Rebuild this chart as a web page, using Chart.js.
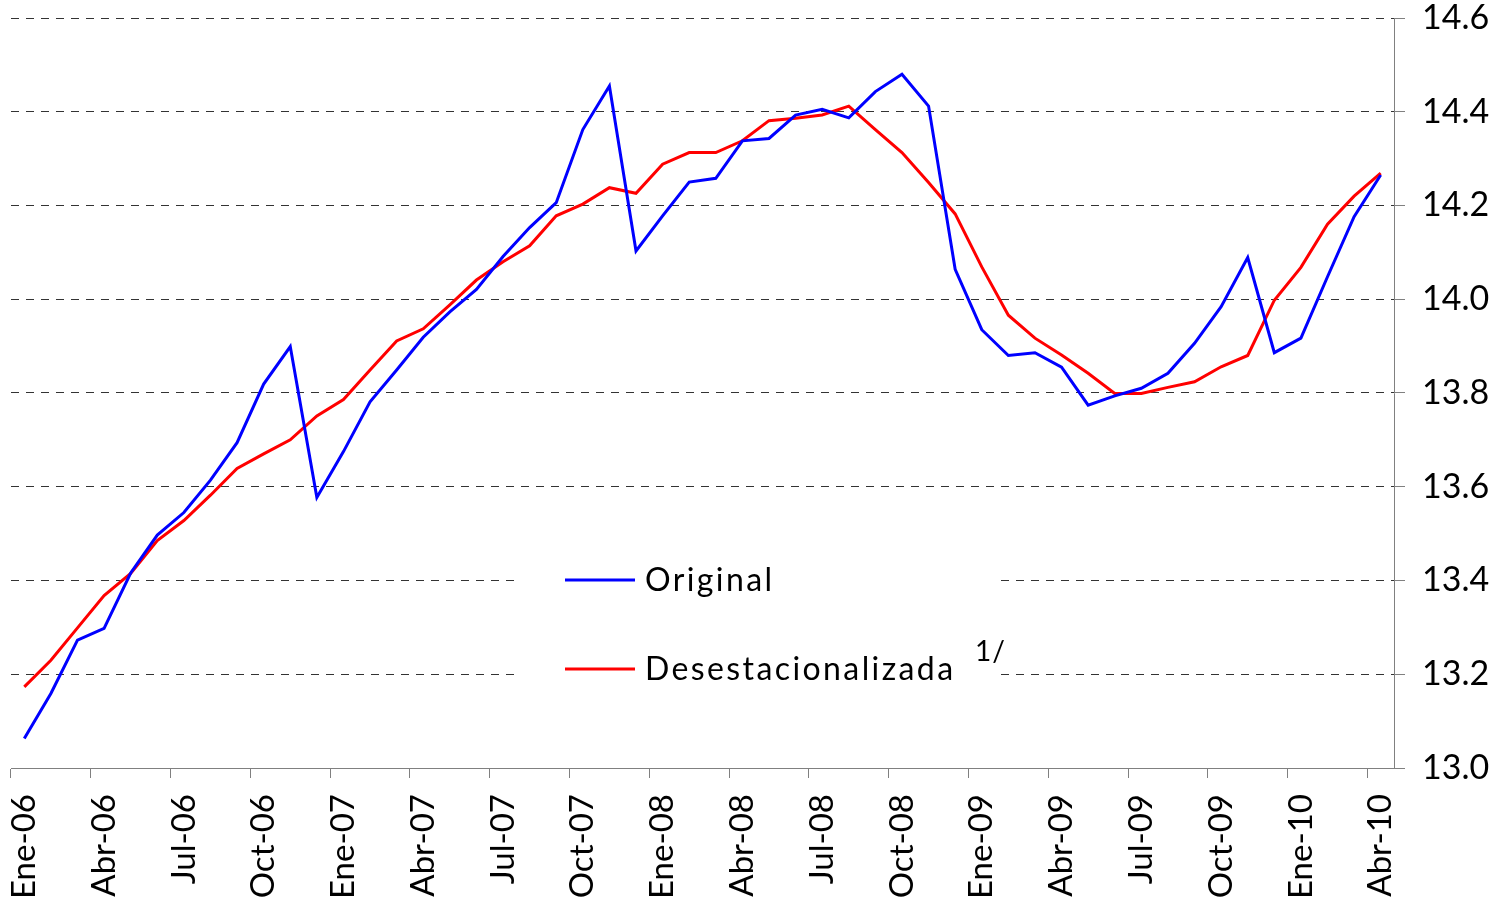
<!DOCTYPE html>
<html>
<head>
<meta charset="utf-8">
<script src="https://cdn.jsdelivr.net/npm/chart.js@4.4.1/dist/chart.umd.min.js"></script>
<style>
  html, body { margin: 0; padding: 0; background: #ffffff; }
  #wrap { width: 1501px; height: 905px; position: relative; }
</style>
</head>
<body>
<div id="wrap"><canvas id="c" width="1501" height="905"></canvas></div>
<script>
const categories = [
  'Ene-06','Feb-06','Mar-06','Abr-06','May-06','Jun-06','Jul-06','Ago-06','Sep-06','Oct-06','Nov-06','Dic-06',
  'Ene-07','Feb-07','Mar-07','Abr-07','May-07','Jun-07','Jul-07','Ago-07','Sep-07','Oct-07','Nov-07','Dic-07',
  'Ene-08','Feb-08','Mar-08','Abr-08','May-08','Jun-08','Jul-08','Ago-08','Sep-08','Oct-08','Nov-08','Dic-08',
  'Ene-09','Feb-09','Mar-09','Abr-09','May-09','Jun-09','Jul-09','Ago-09','Sep-09','Oct-09','Nov-09','Dic-09',
  'Ene-10','Feb-10','Mar-10','Abr-10'
];
const original = [
  13.063, 13.159, 13.273, 13.298, 13.416, 13.497, 13.545, 13.614, 13.694, 13.819, 13.899, 13.577,
  13.675, 13.781, 13.849, 13.919, 13.973, 14.021, 14.091, 14.153, 14.206, 14.362, 14.455, 14.103,
  14.178, 14.250, 14.258, 14.338, 14.343, 14.393, 14.405, 14.387, 14.443, 14.480, 14.412, 14.064,
  13.935, 13.880, 13.886, 13.855, 13.774, 13.794, 13.810, 13.842, 13.906, 13.984, 14.089, 13.886,
  13.917, 14.048, 14.176, 14.265
];
const desestacionalizada = [
  13.173, 13.230, 13.299, 13.368, 13.415, 13.485, 13.528, 13.582, 13.639, 13.670, 13.700, 13.751,
  13.786, 13.849, 13.911, 13.937, 13.988, 14.041, 14.080, 14.114, 14.178, 14.203, 14.238, 14.226,
  14.288, 14.313, 14.313, 14.338, 14.381, 14.386, 14.393, 14.412, 14.362, 14.313, 14.249, 14.182,
  14.069, 13.966, 13.917, 13.881, 13.842, 13.799, 13.799, 13.812, 13.824, 13.856, 13.880, 13.998,
  14.068, 14.160, 14.220, 14.269
];
const yTicks = ['13.0','13.2','13.4','13.6','13.8','14.0','14.2','14.4','14.6'];
const seriesNames = ['Original', 'Desestacionalizada'];
const seriesColors = ['#0000ff', '#ff0000'];
const noteText = '1/';
const labelEvery = 3;

const legendPlugin = {
  id: 'boxLegend',
  beforeDatasetsDraw(chart) {
    const ctx = chart.ctx;
    ctx.save();
    ctx.fillStyle = '#ffffff';
    ctx.fillRect(515, 545, 485, 150);
    const rows = [580, 669];
    rows.forEach((y, i) => {
      ctx.strokeStyle = seriesColors[i];
      ctx.lineWidth = 3;
      ctx.beginPath();
      ctx.moveTo(565, y);
      ctx.lineTo(635, y);
      ctx.stroke();
      ctx.fillStyle = '#000000';
      ctx.font = '32px Lato';
      ctx.letterSpacing = '2.4px';
      ctx.textBaseline = 'middle';
      ctx.textAlign = 'left';
      ctx.fillText(seriesNames[i], 645, y + 1);
    });
    ctx.letterSpacing = '1px';
    ctx.font = '28px Lato';
    ctx.fillText(noteText, 975, 652);
    ctx.restore();
  }
};

new Chart(document.getElementById('c'), {
  type: 'line',
  data: {
    labels: categories,
    datasets: [
      { label: seriesNames[0], data: original, borderColor: seriesColors[0], borderWidth: 3, pointRadius: 0, tension: 0, fill: false },
      { label: seriesNames[1], data: desestacionalizada, borderColor: seriesColors[1], borderWidth: 3, pointRadius: 0, tension: 0, fill: false }
    ]
  },
  options: {
    responsive: false,
    animation: false,
    devicePixelRatio: 1,
    layout: { padding: { left: 11, top: 18, right: 0, bottom: 0 } },
    plugins: { legend: { display: false }, tooltip: { enabled: false } },
    scales: {
      x: {
        type: 'category',
        offset: true,
        grid: {
          offset: true,
          drawOnChartArea: false,
          drawTicks: true,
          tickLength: 10,
          color: (c) => (c.index % labelEvery === 0 ? '#808080' : 'rgba(0,0,0,0)'),
          tickColor: (c) => (c.index % labelEvery === 0 ? '#808080' : 'rgba(0,0,0,0)')
        },
        border: { display: true, color: '#808080', width: 1 },
        ticks: {
          autoSkip: false,
          minRotation: 90,
          maxRotation: 90,
          padding: 16,
          color: '#000000',
          font: { family: 'Lato', size: 33, lineHeight: 1 },
          callback: (v, i) => (i % labelEvery === 0 ? categories[i] : '')
        },
        afterFit(scale) { scale.height = 137; scale.paddingLeft = 0; scale.paddingRight = 0; }
      },
      y: {
        position: 'right',
        min: 13.0,
        max: 14.6,
        grid: {
          color: '#333333',
          lineWidth: 1,
          drawTicks: true,
          tickLength: 11,
          tickColor: '#808080'
        },
        border: { display: true, color: '#808080', width: 1, dash: [8, 7] },
        ticks: {
          stepSize: 0.2,
          padding: 17,
          color: '#000000',
          font: { family: 'Lato', size: 34, lineHeight: 1 },
          callback: (v, i) => yTicks[i]
        },
        afterFit(scale) { scale.width = 107; scale.paddingTop = 0; scale.paddingBottom = 0; }
      }
    }
  },
  plugins: [legendPlugin]
});
</script>
</body>
</html>
